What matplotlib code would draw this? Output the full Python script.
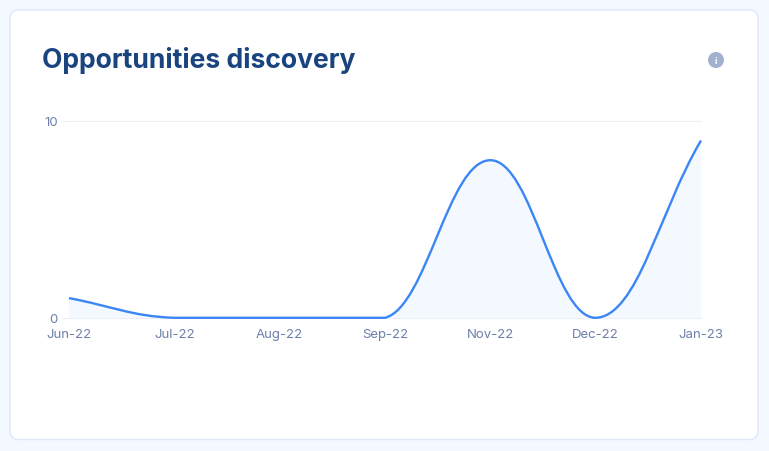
import matplotlib
matplotlib.use("Agg")
import matplotlib.pyplot as plt
from matplotlib.patches import Circle, FancyBboxPatch, PathPatch
from matplotlib.path import Path

# Data
months = ["Jun-22", "Jul-22", "Aug-22", "Sep-22", "Nov-22", "Dec-22", "Jan-23"]
values = [1, 0, 0, 0, 8, 0, 9]
y_ticks = [0, 10]
title = "Opportunities discovery"

# Styles
W, H = 769, 452
X_HANDLE = 0.4
Y_HANDLE = 0.07
LINE = "#3b86f7"
FILL = "#f4f9ff"
GRID = "#eaeef5"
TICK_TEXT = "#6d7ea9"
TITLE_TEXT = "#1a4480"

# Bezier control points, capped to the y range so the curve stays above zero


def curve_vertices(vals, ymin, ymax):
    n = len(vals)
    verts = [(0, vals[0])]
    for i in range(n - 1):
        # outgoing handle of point i (end points pull straight at the neighbour)
        if i == 0:
            out_y = vals[0] + X_HANDLE * (vals[1] - vals[0])
        else:
            out_y = vals[i] + Y_HANDLE * (vals[i + 1] - vals[i - 1])
        # incoming handle of point i + 1
        if i + 1 == n - 1:
            in_y = vals[-1] + X_HANDLE * (vals[-2] - vals[-1])
        else:
            in_y = vals[i + 1] - Y_HANDLE * (vals[i + 2] - vals[i])
        out_y = min(max(out_y, ymin), ymax)
        in_y = min(max(in_y, ymin), ymax)
        verts += [(i + X_HANDLE, out_y), (i + 1 - X_HANDLE, in_y),
                  (i + 1, vals[i + 1])]
    return verts


fig = plt.figure(figsize=(W / 100, H / 100), dpi=100, facecolor="#f4f8ff")

# Card, title and info icon live on a full-figure pixel axes
bg = fig.add_axes([0, 0, 1, 1])
bg.set_xlim(0, W)
bg.set_ylim(H, 0)
bg.axis("off")
bg.add_patch(FancyBboxPatch((10, 11), 748, 429.5,
                            boxstyle="round,pad=0,rounding_size=9",
                            fc="white", ec="#dfe7fa", lw=1))
bg.text(42, 61, title, fontsize=19.1, fontweight="bold", family="Inter",
        color=TITLE_TEXT, va="center", ha="left")
bg.add_patch(Circle((716, 61), 8, fc="#a3b1d0", ec="none"))
bg.text(716, 61.5, "i", fontsize=6.5, fontweight="bold", family="Inter",
        color="white", ha="center", va="center")

# Chart
ax = fig.add_axes([69 / W, 1 - 318.8 / H, 632 / W, 197 / H])
ax.patch.set_alpha(0)
ax.set_xlim(0, len(months) - 1)
ax.set_ylim(0, 10)

verts = curve_vertices(values, 0, 10)
codes = [Path.MOVETO] + [Path.CURVE4] * (len(verts) - 1)
area_verts = verts + [(len(months) - 1, 0), (0, 0), (0, values[0])]
area_codes = codes + [Path.LINETO, Path.LINETO, Path.CLOSEPOLY]
ax.add_patch(PathPatch(Path(area_verts, area_codes), fc=FILL, ec="none"))
ax.add_patch(PathPatch(Path(verts, codes), fc="none", ec=LINE, lw=1.7,
                       clip_on=False, zorder=3))

ax.set_xticks(range(len(months)))
ax.set_xticklabels(months, family="Inter")
ax.set_yticks(y_ticks)
ax.set_yticklabels(y_ticks, family="Inter")
ax.tick_params(axis="x", length=0, pad=7.5, labelsize=9.5, labelcolor=TICK_TEXT)
ax.tick_params(axis="y", length=5.8, width=0.8, color=GRID, pad=2.2,
               labelsize=9.5, labelcolor=TICK_TEXT)
ax.grid(axis="y", color=GRID, lw=0.8)
ax.set_axisbelow(True)
for s in ax.spines.values():
    s.set_visible(False)
for gl in ax.get_ygridlines():
    gl.set_clip_on(False)

fig.savefig("out.png", dpi=100, facecolor=fig.get_facecolor())
